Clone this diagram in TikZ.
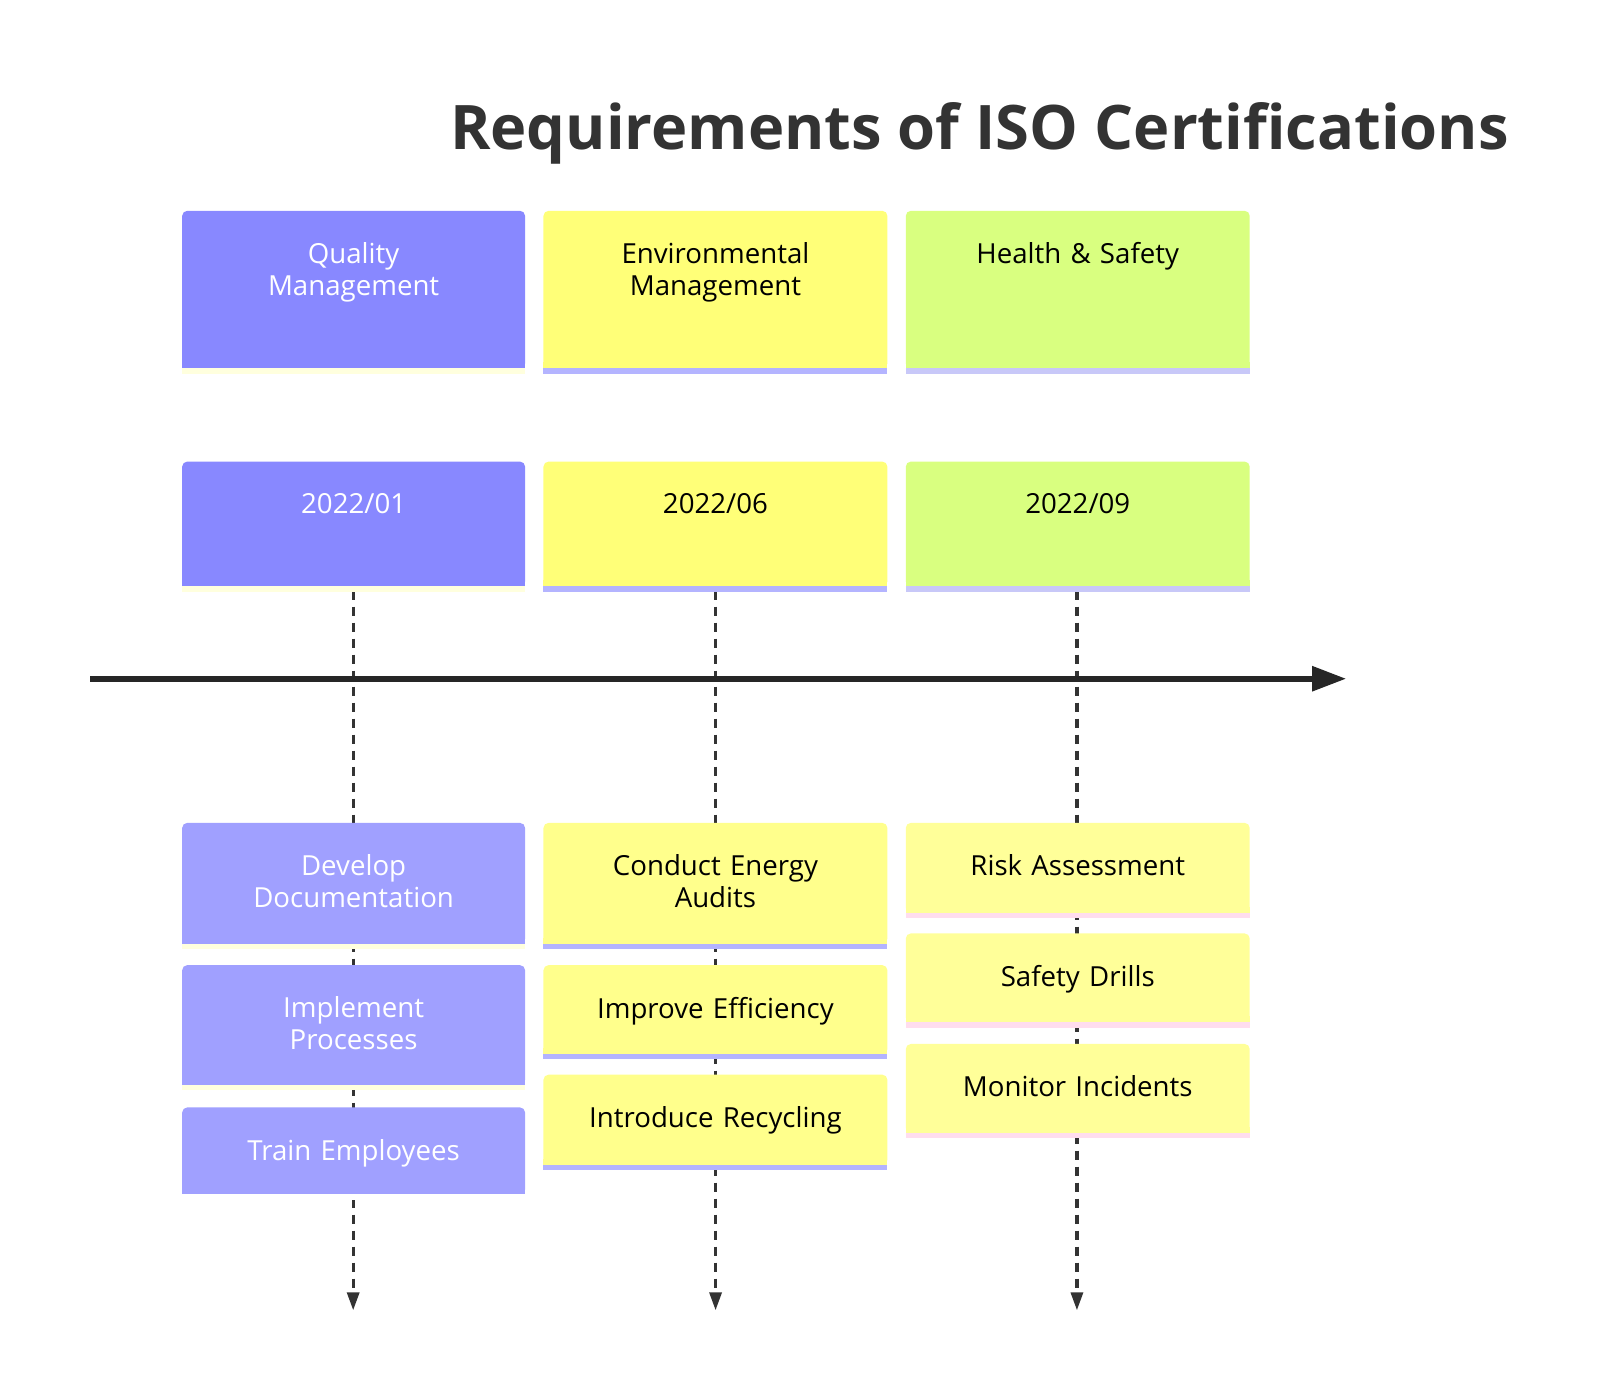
\documentclass[tikz,border=0pt]{standalone}
\usepackage{fontspec}
\setmainfont{Open Sans}
\usetikzlibrary{arrows.meta}
\definecolor{secA}{HTML}{8888FF}\definecolor{secB}{HTML}{FFFF78}\definecolor{secC}{HTML}{D9FF80}
\definecolor{evA}{HTML}{A0A0FF}\definecolor{evB}{HTML}{FFFF8C}\definecolor{evC}{HTML}{FFFF99}
\definecolor{stA}{HTML}{FFFFDE}\definecolor{stB}{HTML}{B4B4FF}\definecolor{stC}{HTML}{C8C8F8}\definecolor{stP}{HTML}{FFDDEE}
\definecolor{ink}{HTML}{333333}
\newcommand{\tbox}[8]{% x1,y1,x2,y2,fill,stripe,textcolor,text
  \fill[#5,rounded corners=2.5pt] (#1,#2) rectangle (#3,#4);
  \fill[#5] (#1,#4-6) rectangle (#3,#4);
  \fill[#6] (#1,#4) rectangle (#3,#4+5);
  \node[anchor=north,text width=150pt,align=center,font=\fontsize{13.5}{15.5}\selectfont,text=#7] at ({(#1+#3)/2},#2+24) {#8};}
\begin{document}
\begin{tikzpicture}[x=0.5pt,y=-0.5pt]
\path[use as bounding box] (0,0) rectangle (1600,1392);
\clip (0,0) rectangle (1600,1392);
\begin{scope}[scale=1.0235,transform shape]
\node[font=\fontsize{30}{34}\bfseries\selectfont,text=ink] (title) at (957,130) {Requirements of ISO Certifications};
% dashed lines
\foreach \x/\n in {345/a,699/b,1052/c}{
  \coordinate (s\n) at (\x,577); \coordinate (e\n) at (\x,1280);
  \draw[ink,line width=1.6pt,dash pattern=on 4.5pt off 3.5pt,-{Triangle[width=6pt,length=9pt]}] (s\n) -- (e\n);}
\coordinate (t0) at (88,663); \coordinate (t1) at (1315,663);
\draw[black!85,line width=2.8pt,-{Triangle[width=12pt,length=17pt]}] (t0) -- (t1);
% sections
\tbox{178}{206}{513}{360}{secA}{stA}{white}{Quality\\Management}
\tbox{531}{206}{867}{360}{secB}{stB}{black}{Environmental\\Management}
\tbox{885}{206}{1221}{360}{secC}{stC}{black}{Health \& Safety}
\tbox{178}{451}{513}{573}{secA}{stA}{white}{2022/01}
\tbox{531}{451}{867}{573}{secB}{stB}{black}{2022/06}
\tbox{885}{451}{1221}{573}{secC}{stC}{black}{2022/09}
% events
\tbox{178}{804}{513}{922}{evA}{stA}{white}{Develop\\Documentation}
\tbox{178}{943}{513}{1060}{evA}{stA}{white}{Implement\\Processes}
\tbox{178}{1082}{513}{1167}{evA}{white}{white}{Train Employees}
\tbox{531}{804}{867}{922}{evB}{stB}{black}{Conduct Energy\\Audits}
\tbox{531}{943}{867}{1030}{evB}{stB}{black}{Improve Efficiency}
\tbox{531}{1050}{867}{1138}{evB}{stB}{black}{Introduce Recycling}
\tbox{885}{804}{1221}{892}{evC}{stP}{black}{Risk Assessment}
\tbox{885}{912}{1221}{999}{evC}{stP}{black}{Safety Drills}
\tbox{885}{1020}{1221}{1107}{evC}{stP}{black}{Monitor Incidents}
\end{scope}
\end{tikzpicture}
\end{document}
